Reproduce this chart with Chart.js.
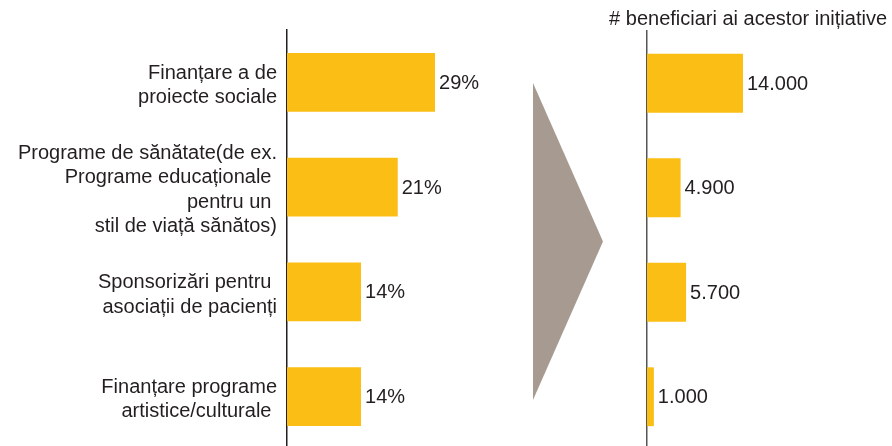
<!DOCTYPE html>
<html>
<head>
<meta charset="utf-8">
<script src="https://cdn.jsdelivr.net/npm/chart.js@4/dist/chart.umd.min.js"></script>
<style>
    html, body { margin: 0; padding: 0; background: #fff; overflow: hidden; }
    #wrap { position: relative; width: 892px; height: 446px; }
    #leftBox { position: absolute; left: 0; top: 0; width: 500px; height: 449px; }
    #rightBox { position: absolute; left: 520px; top: 0; width: 372px; height: 449px; }
    /* grey arrow between the two charts */
    #arrow {
        position: absolute; left: 533px; top: 83px; width: 70px; height: 317px;
        background: #a79b91;
        clip-path: polygon(0 0, 100% 50%, 0 100%);
    }
</style>
</head>
<body>
<div id="wrap">
    <div id="leftBox"><canvas id="shareChart" width="500" height="449"></canvas></div>
    <div id="arrow"></div>
    <div id="rightBox"><canvas id="benefChart" width="372" height="449"></canvas></div>
</div>
<script>
// categories (multi-line labels, as in the original)
const categories = [
    ['Finanțare a de', 'proiecte sociale'],
    ['Programe de sănătate(de ex.', 'Programe educaționale ', 'pentru un ', 'stil de viață sănătos)'],
    ['Sponsorizări pentru ', 'asociații de pacienți'],
    ['Finanțare programe', 'artistice/culturale ']
];
// share of budget, % (labels show the rounded value)
const shares = [28.6, 21.4, 14.3, 14.3];
// number of beneficiaries
const beneficiaries = [14000, 4900, 5700, 1000];
const rightTitle = '# beneficiari ai acestor inițiative';

const barColor = '#fbbe15';
const textColor = '#231f20';
const fontFamily = '"Liberation Sans", Arial, Helvetica, sans-serif';

function fmtThousands(v) {
    return String(v).replace(/\B(?=(\d{3})+(?!\d))/g, '.');
}

// draws the value next to the end of each bar
const valueLabels = {
    id: 'valueLabels',
    afterDatasetsDraw: function(chart, args, opts) {
        const ctx = chart.ctx;
        const meta = chart.getDatasetMeta(0);
        const data = chart.data.datasets[0].data;
        ctx.save();
        ctx.font = '20px ' + fontFamily;
        ctx.fillStyle = textColor;
        ctx.textAlign = 'left';
        ctx.textBaseline = 'middle';
        meta.data.forEach(function(bar, i) {
            ctx.fillText(opts.format(data[i]), bar.x + 4, bar.y + 1);
        });
        ctx.restore();
    }
};

function baseOptions(axisWidth, xMax, borderColor, showTicks) {
    return {
        indexAxis: 'y',
        responsive: false,
        animation: false,
        plugins: {
            legend: { display: false },
            tooltip: { enabled: false }
        },
        scales: {
            x: { display: false, min: 0, max: xMax },
            y: {
                grid: { display: false, drawTicks: false },
                border: { display: true, color: borderColor, width: 1.5 },
                ticks: {
                    display: showTicks,
                    padding: 10,
                    labelOffset: 3,
                    color: textColor,
                    font: { family: fontFamily, size: 20, lineHeight: 1.22 }
                },
                afterFit: function(scale) {
                    scale.width = axisWidth;
                    // tall labels must not shrink the plot area
                    scale.paddingTop = 0;
                    scale.paddingBottom = 0;
                }
            }
        }
    };
}

// left chart: share of spending
const shareOpts = baseOptions(287, 40, '#231f20', true);
shareOpts.layout = { padding: { top: 30, right: 6 } };
shareOpts.plugins.valueLabels = { format: function(v) { return Math.round(v) + '%'; } };
new Chart(document.getElementById('shareChart').getContext('2d'), {
    type: 'bar',
    data: {
        labels: categories,
        datasets: [{
            data: shares,
            backgroundColor: barColor,
            categoryPercentage: 1,
            barPercentage: 0.563
        }]
    },
    options: shareOpts,
    plugins: [valueLabels]
});

// right chart: beneficiaries
const benefOpts = baseOptions(127, 35000, '#555555', false);
benefOpts.layout = { padding: { right: 5 } };
benefOpts.plugins.title = {
    display: true,
    text: rightTitle,
    align: 'end',
    color: textColor,
    font: { family: fontFamily, size: 20, weight: 'normal', lineHeight: 1.2 },
    padding: { top: 7, bottom: 0 }
};
benefOpts.plugins.valueLabels = { format: fmtThousands };
new Chart(document.getElementById('benefChart').getContext('2d'), {
    type: 'bar',
    data: {
        labels: categories,
        datasets: [{
            data: beneficiaries,
            backgroundColor: barColor,
            categoryPercentage: 1,
            barPercentage: 0.563
        }]
    },
    options: benefOpts,
    plugins: [valueLabels]
});
</script>
</body>
</html>
